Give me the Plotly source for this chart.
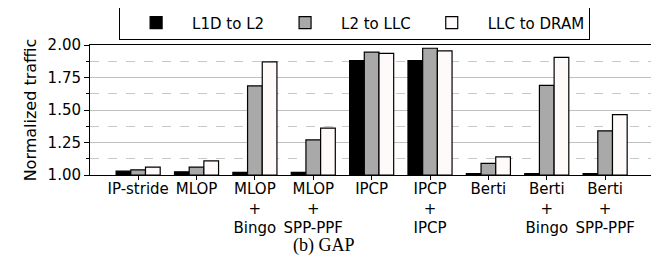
import plotly.graph_objects as go

categories = ["IP-stride", "MLOP", "MLOP<br>+<br>Bingo", "MLOP<br>+<br>SPP-PPF", "IPCP",
              "IPCP<br>+<br>IPCP", "Berti", "Berti<br>+<br>Bingo", "Berti<br>+<br>SPP-PPF"]
l1d_to_l2 = [1.03, 1.025, 1.02, 1.02, 1.88, 1.88, 1.01, 1.01, 1.01]
l2_to_llc = [1.04, 1.06, 1.685, 1.27, 1.945, 1.975, 1.09, 1.69, 1.34]
llc_to_dram = [1.06, 1.108, 1.87, 1.36, 1.935, 1.955, 1.14, 1.905, 1.465]
series_names = ["L1D to L2", "L2 to LLC", "LLC to DRAM"]
series_colors = ["#000000", "#a9a9a9", "#fffafa"]
y_ticks = [1.00, 1.25, 1.50, 1.75, 2.00]

font = "DejaVu Sans"
fig = go.Figure()
x = list(range(len(categories)))
for name, vals, col in zip(series_names, [l1d_to_l2, l2_to_llc, llc_to_dram], series_colors):
    fig.add_trace(go.Bar(
        x=x, y=[v - 1.0 for v in vals], base=1.0, name=name,
        marker=dict(color=col, line=dict(color="black", width=1.2)),
    ))

fig.update_layout(
    width=659, height=271,
    margin=dict(l=82, r=14, t=37, b=104, autoexpand=False),
    paper_bgcolor="white", plot_bgcolor="white",
    barmode="group", bargap=0.245, bargroupgap=0,
    font=dict(family=font, size=15, color="black"),
    showlegend=True,
    legend=dict(orientation="h", x=0.47, xanchor="center", y=1.035, yanchor="bottom",
                bordercolor="black", borderwidth=1, font=dict(size=15),
                itemwidth=62, tracegroupgap=0, bgcolor="white"),
    xaxis=dict(
        range=[-0.825, 8.82], tickmode="array", tickvals=x, ticktext=categories,
        ticks="", ticklen=0, showline=True, linecolor="black",
        linewidth=1, mirror=True, showgrid=False, tickangle=0, zeroline=False,
        tickfont=dict(size=15),
        minor=dict(tickmode="array", tickvals=x, ticks="outside", ticklen=4,
                   tickcolor="black", showgrid=False),
    ),
    yaxis=dict(
        range=[1.0, 2.0], tickmode="array", tickvals=y_ticks,
        ticktext=[f"{v:.2f}" for v in y_ticks],
        ticks="outside", ticklen=5, tickcolor="black", showline=True, linecolor="black",
        linewidth=1, mirror=True, showgrid=True, gridcolor="#c0c0c0", gridwidth=1,
        zeroline=False, tickfont=dict(size=15),
        title=dict(text="Normalized traffic", font=dict(size=16), standoff=6),
        minor=dict(tickmode="array", tickvals=[1.125, 1.375, 1.625, 1.875], ticks="outside",
                   ticklen=3, tickcolor="black", showgrid=True, gridcolor="#c8c8c8",
                   griddash="dash", gridwidth=1),
    ),
)
fig.add_annotation(text="(b) GAP", xref="paper", yref="paper", x=0.415, y=-0.545,
                   xanchor="center", yanchor="middle", showarrow=False,
                   font=dict(family="Liberation Serif", size=18, color="black"))
fig.write_html("out.html")
